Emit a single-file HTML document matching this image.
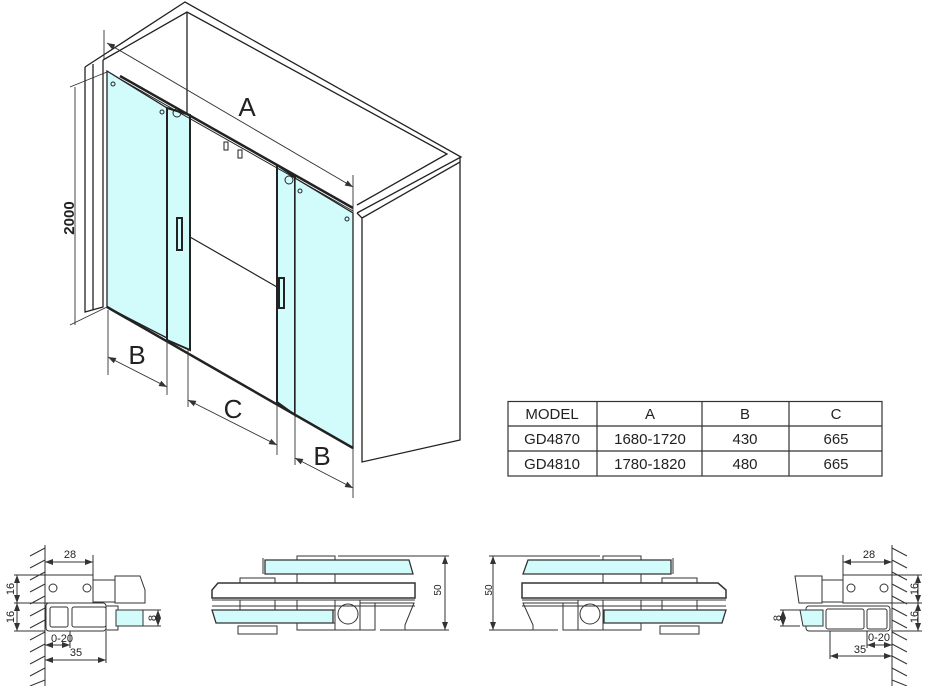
<!DOCTYPE html>
<html><head><meta charset="utf-8"><style>
html,body{margin:0;padding:0;background:#fff}
svg{display:block}
text{font-family:"Liberation Sans",sans-serif;fill:#222}
</style></head><body>
<svg width="928" height="686" viewBox="0 0 928 686" xmlns="http://www.w3.org/2000/svg">
<defs>
<marker id="ar" markerWidth="8" markerHeight="6" refX="8" refY="3" orient="auto" markerUnits="userSpaceOnUse"><path d="M0,0 L8,3 L0,6z" fill="#333"/></marker>
<marker id="al" markerWidth="8" markerHeight="6" refX="0" refY="3" orient="auto" markerUnits="userSpaceOnUse"><path d="M8,0 L0,3 L8,6z" fill="#333"/></marker>
</defs>
<g fill="none" stroke="#222" stroke-width="1.3">
<path d="M85,67 L185,2 L461,157 L357,213"/>
<path d="M103,60 L187,12 L447,154 L357,205"/>
<path d="M187,12 L187,113"/>
<path d="M357,213 L362,218 L362,462 L460,440 L460,162 L362,218"/>
<path d="M460,157 L460,162"/>
<path d="M85,67 L85,312 L103,307 L103,60"/>
<path d="M93,64 L93,310"/>
</g>
<g stroke="#222" stroke-width="1.3" fill="#d2fcfc">
<path d="M107,71 L167,108 L167,338 L107,307z"/>
<path d="M167,108 L190,115 L190,350 L167,340z" stroke-width="2"/>
<path d="M277,165 L295,177 L295,415 L277,402z" stroke-width="2"/>
<path d="M295,178 L353,213 L353,448 L295,415z"/>
</g>
<g fill="none" stroke="#222">
<path d="M120,76 L353,208" stroke-width="2.5"/>
<path d="M120,79 L353,211" stroke-width="1"/>
<path d="M107,307 L353,448" stroke-width="2.5"/>
<path d="M190,237 L277,287" stroke-width="1.2"/>
<rect x="177" y="218" width="5" height="32" stroke-width="2"/>
<rect x="279" y="278" width="5" height="30" stroke-width="2"/>
<circle cx="177" cy="113" r="4"/><circle cx="289" cy="180" r="4"/>
<circle cx="113" cy="84" r="2"/><circle cx="162" cy="112" r="2"/>
<circle cx="300" cy="191" r="2"/><circle cx="347" cy="219" r="2"/>
<rect x="224" y="142" width="4" height="8"/><rect x="238" y="150" width="4" height="8"/>
</g>
<g stroke="#333" stroke-width="0.9" fill="none">
<path d="M75,87 L75,325"/><path d="M70,87 L107,72"/><path d="M70,325 L107,307"/>
<path d="M107,43 L353,187" marker-start="url(#al)" marker-end="url(#ar)"/>
<path d="M104,30 L104,60"/><path d="M353,175 L353,212"/>
<path d="M108,310 L108,375"/><path d="M167,340 L167,395"/>
<path d="M108,357 L167,387" marker-start="url(#al)" marker-end="url(#ar)"/>
<path d="M188,350 L188,407"/><path d="M277,405 L277,455"/>
<path d="M188,400 L277,445" marker-start="url(#al)" marker-end="url(#ar)"/>
<path d="M295,415 L295,465"/><path d="M353,448 L353,498"/>
<path d="M295,458 L353,488" marker-start="url(#al)" marker-end="url(#ar)"/>
</g>
<text x="247" y="116" font-size="26" text-anchor="middle">A</text>
<text x="137" y="364" font-size="26" text-anchor="middle">B</text>
<text x="233" y="418" font-size="26" text-anchor="middle">C</text>
<text x="322" y="465" font-size="26" text-anchor="middle">B</text>
<text transform="translate(74,218) rotate(-90)" font-size="15" font-weight="bold" text-anchor="middle">2000</text>
<g stroke="#333" stroke-width="1.2" fill="none">
<rect x="508" y="401.5" width="374" height="74.5"/>
<path d="M508,426 H882 M508,451 H882 M597,401 V476 M702,401 V476 M789,401 V476"/>
</g>
<g font-size="15" text-anchor="middle">
<text x="552" y="419">MODEL</text><text x="650" y="419">A</text><text x="745" y="419">B</text><text x="836" y="419">C</text>
<text x="552" y="444">GD4870</text><text x="650" y="444">1680-1720</text><text x="745" y="444">430</text><text x="836" y="444">665</text>
<text x="552" y="469">GD4810</text><text x="650" y="469">1780-1820</text><text x="745" y="469">480</text><text x="836" y="469">665</text>
</g>
<g stroke="#333" stroke-width="1" fill="none">
<path d="M45,545 V686"/>
<path d="M45,548 L30,556 M45,560 L30,568 M45,572 L30,580 M45,584 L30,592 M45,596 L30,604 M45,608 L30,616 M45,620 L30,628 M45,632 L30,640 M45,644 L30,652 M45,656 L30,664 M45,668 L30,676 M45,680 L30,686"/>
<rect x="45" y="575" width="48" height="28"/>
<circle cx="53" cy="588" r="4"/><circle cx="87" cy="588" r="4"/>
<rect x="93" y="580" width="22" height="22"/>
<path d="M115,576 H140 L145,590 V603 H115z"/>
<rect x="46" y="603" width="60" height="28" rx="3"/>
<rect x="50" y="607" width="18" height="20" rx="2"/><rect x="72" y="607" width="34" height="20" rx="2"/>
<rect x="106" y="606" width="12" height="24"/>
<rect x="116" y="610" width="27" height="16" fill="#d2fcfc"/>
<path d="M45,562 H93" marker-start="url(#al)" marker-end="url(#ar)"/><path d="M93,555 V575"/>
<path d="M17,575 V603" marker-start="url(#al)" marker-end="url(#ar)"/><path d="M17,603 V631" marker-start="url(#al)" marker-end="url(#ar)"/>
<path d="M14,575 H45 M14,603 H45 M14,631 H45"/>
<path d="M158,610 V626" marker-start="url(#al)" marker-end="url(#ar)"/><path d="M143,610 H161 M143,626 H161"/>
<path d="M45,645 H70" marker-start="url(#al)" marker-end="url(#ar)"/><path d="M70,631 V648"/>
<path d="M45,660 H106" marker-start="url(#al)" marker-end="url(#ar)"/><path d="M106,631 V663"/>
</g>
<g font-size="11" text-anchor="middle">
<text x="70" y="558">28</text><text x="62" y="642">0-20</text><text x="76" y="656">35</text>
<text transform="translate(14,589) rotate(-90)">16</text><text transform="translate(14,617) rotate(-90)">16</text>
<text transform="translate(156,618) rotate(-90)">8</text>
</g>
<g stroke="#333" stroke-width="1" fill="none">
<rect x="297" y="556" width="38" height="5"/>
<path d="M265,560 H409 L413,574 H265z" fill="#d2fcfc" stroke-width="1.3"/>
<path d="M263,558 V574"/>
<rect x="240" y="578" width="35" height="5"/>
<rect x="297" y="574" width="38" height="9"/>
<path d="M218,583 H415 V598 H212 V590z" stroke-width="1.5"/>
<path d="M212,600 H415 M212,606 H415"/>
<rect x="240" y="600" width="35" height="10"/><rect x="297" y="600" width="38" height="10"/>
<path d="M212,610 H333 V623 H216z" fill="#d2fcfc" stroke-width="1.3"/>
<rect x="335" y="600" width="25" height="30"/><circle cx="348" cy="614" r="10"/>
<path d="M360,603 H375 V630 H360 M375,603 H414 L405,625 V630"/>
<rect x="238" y="626" width="39" height="8"/><rect x="297" y="623" width="38" height="7"/>
<path d="M445,556 V630" marker-start="url(#al)" marker-end="url(#ar)"/>
<path d="M338,556 H449 M380,630 H449"/>
</g>
<text transform="translate(441,590) rotate(-90)" font-size="10" text-anchor="middle">50</text>
<g stroke="#333" stroke-width="1" fill="none">
<rect x="603" y="556" width="38" height="5"/>
<path d="M528,560 H671 V574 H523z" fill="#d2fcfc" stroke-width="1.3"/>
<path d="M673,558 V574"/>
<rect x="662" y="578" width="35" height="5"/>
<rect x="603" y="574" width="38" height="9"/>
<path d="M522,583 H718 L726,590 V598 H522z" stroke-width="1.5"/>
<path d="M522,600 H726 M522,606 H726"/>
<rect x="662" y="600" width="35" height="10"/><rect x="603" y="600" width="38" height="10"/>
<path d="M604,610 H726 L722,623 H604z" fill="#d2fcfc" stroke-width="1.3"/>
<rect x="578" y="600" width="25" height="30"/><circle cx="590" cy="614" r="10"/>
<path d="M578,603 H563 V630 H578 M563,603 H523 L533,625 V630"/>
<rect x="660" y="626" width="39" height="8"/><rect x="603" y="623" width="38" height="7"/>
<path d="M493,556 V630" marker-start="url(#al)" marker-end="url(#ar)"/>
<path d="M489,556 H600 M489,630 H558"/>
</g>
<text transform="translate(492,590) rotate(-90)" font-size="10" text-anchor="middle">50</text>
<g stroke="#333" stroke-width="1" fill="none">
<path d="M892,545 V686"/>
<path d="M892,548 L907,556 M892,560 L907,568 M892,572 L907,580 M892,584 L907,592 M892,596 L907,604 M892,608 L907,616 M892,620 L907,628 M892,632 L907,640 M892,644 L907,652 M892,656 L907,664 M892,668 L907,676 M892,680 L907,686"/>
<rect x="843" y="575" width="49" height="28"/>
<circle cx="851" cy="588" r="4"/><circle cx="884" cy="588" r="4"/>
<rect x="822" y="580" width="21" height="22"/>
<path d="M795,576 H822 V603 H799z"/>
<rect x="806" y="606" width="84" height="25" rx="3"/>
<rect x="826" y="609" width="38" height="20" rx="2"/><rect x="867" y="609" width="20" height="20" rx="2"/>
<path d="M800,610 H823 V626 H803z" fill="#d2fcfc"/>
<path d="M843,562 H892" marker-start="url(#al)" marker-end="url(#ar)"/><path d="M843,555 V575"/>
<path d="M918,575 V603" marker-start="url(#al)" marker-end="url(#ar)"/><path d="M918,603 V631" marker-start="url(#al)" marker-end="url(#ar)"/>
<path d="M892,575 H922 M892,603 H922 M892,631 H922"/>
<path d="M783,610 V626" marker-start="url(#al)" marker-end="url(#ar)"/><path d="M780,610 H800 M780,626 H800"/>
<path d="M867,645 H892" marker-start="url(#al)" marker-end="url(#ar)"/><path d="M867,631 V648"/>
<path d="M830,656 H892" marker-start="url(#al)" marker-end="url(#ar)"/><path d="M830,631 V659"/>
</g>
<g font-size="11" text-anchor="middle">
<text x="869" y="558">28</text><text x="879" y="641">0-20</text><text x="860" y="653">35</text>
<text transform="translate(918,589) rotate(-90)">16</text><text transform="translate(918,617) rotate(-90)">16</text>
<text transform="translate(781,618) rotate(-90)">8</text>
</g>
</svg>
</body></html>
